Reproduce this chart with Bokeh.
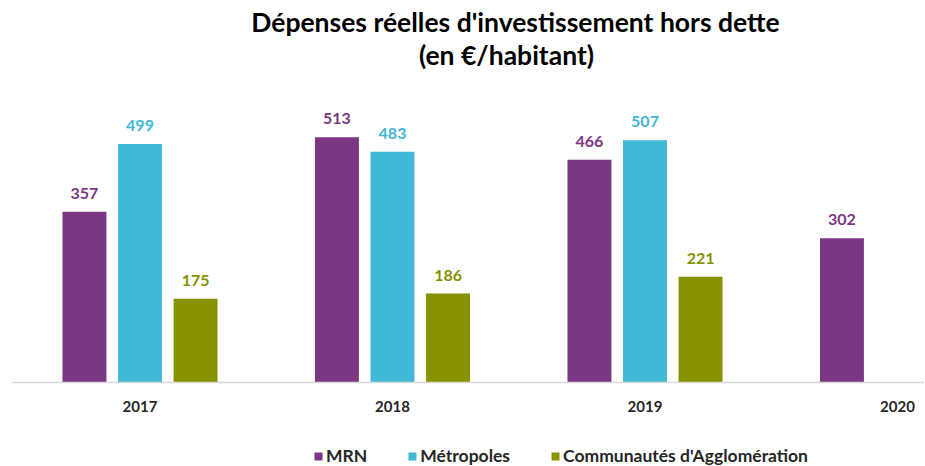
from bokeh.plotting import figure
from bokeh.models import (ColumnDataSource, FixedTicker, Legend, LegendItem,
                          Label, LabelSet)
from bokeh.core.properties import value
from bokeh.transform import dodge
from bokeh.embed import file_html
from bokeh.resources import INLINE

years = ["2017", "2018", "2019", "2020"]
mrn = [357, 513, 466, 302]
metropoles = [499, 483, 507]
agglo = [175, 186, 221]

series_names = ["MRN", "Métropoles", "Communautés d'Agglomération"]
colors = ["#7B3784", "#41B8D5", "#889200"]
offsets = [-0.22, 0.0, 0.22]
title_lines = ["Dépenses réelles d'investissement hors dette", "(en €/habitant)"]

FONT = "Lato"
PX_PER_GROUP = 252.5
PX_PER_UNIT = 0.478
W, H = 924, 466
BASE_Y = 382  # page y of baseline

x0 = -139.5 / PX_PER_GROUP
p = figure(frame_width=W, frame_height=H, output_backend="svg", toolbar_location=None,
           x_range=(x0, x0 + W / PX_PER_GROUP),
           y_range=(-(H - BASE_Y) / PX_PER_UNIT, BASE_Y / PX_PER_UNIT),
           min_border=0)
p.outline_line_color = None
p.xgrid.visible = False
p.ygrid.visible = False
p.yaxis.visible = False

items = []
for name, vals, col, off in zip(series_names, [mrn, metropoles, agglo], colors, offsets):
    src = ColumnDataSource(dict(idx=list(range(len(vals))), val=vals,
                                lab=[str(v) for v in vals]))
    r = p.vbar(x=dodge("idx", off), top="val", width=0.174, source=src,
               fill_color=col, line_color=None)
    items.append(LegendItem(label=name, renderers=[r]))
    p.add_layout(LabelSet(x=dodge("idx", off), y="val", text="lab", source=src,
                          text_align="center", text_baseline="bottom", y_offset=13,
                          text_font=value(FONT), text_font_style="bold",
                          text_font_size="16px", text_color=col))

ax = p.xaxis[0]
ax.fixed_location = 0
ax.bounds = (-0.505, x0 + W / PX_PER_GROUP)
ax.ticker = FixedTicker(ticks=list(range(len(years))))
ax.major_label_overrides = {i: y for i, y in enumerate(years)}
ax.major_tick_line_color = None
ax.minor_tick_line_color = None
ax.axis_line_color = "#D9D9D9"
ax.axis_line_width = 1.5
ax.major_label_text_font = FONT
ax.major_label_text_font_style = "bold"
ax.major_label_text_font_size = "15px"
ax.major_label_text_color = "#262626"
ax.major_label_standoff = 12

legend = Legend(items=items, orientation="horizontal", location=(313, 0),
                glyph_width=10, glyph_height=10, label_standoff=3, spacing=40,
                label_text_font=FONT, label_text_font_style="bold",
                label_text_font_size="17.5px", label_text_color="#262626",
                border_line_color=None, background_fill_alpha=0, margin=0, padding=2)
p.add_layout(legend)

for txt, cx, by in zip(title_lines, [515, 506], [21, 54]):
    p.add_layout(Label(x=cx, y=H - by, x_units="screen", y_units="screen", text=txt,
                       text_align="center", text_baseline="alphabetic",
                       text_font=FONT, text_font_size="26.5px", text_font_style="bold",
                       text_color="#000000"))

open("out.html", "w").write(file_html(p, INLINE))
